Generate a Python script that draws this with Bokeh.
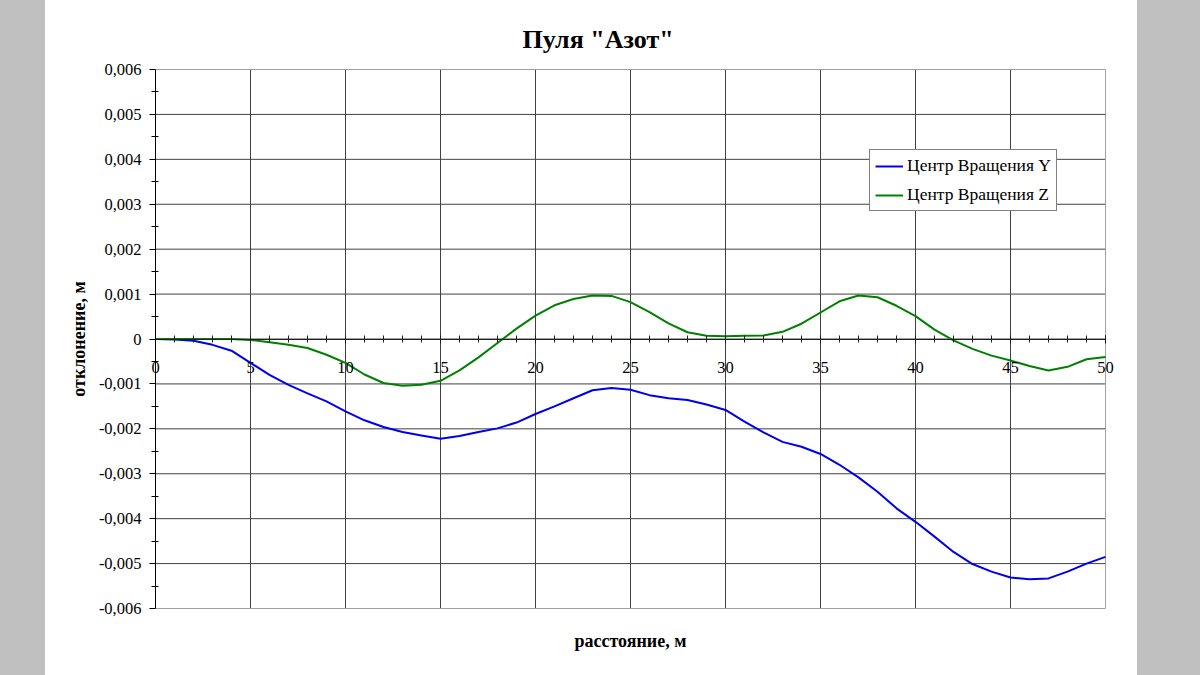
from bokeh.plotting import figure
from bokeh.models import (FixedTicker, CustomJSTickFormatter, Legend,
                          LegendItem, Range1d, LinearAxis, Title)
from bokeh.embed import file_html
from bokeh.resources import INLINE

# ---------------- data ----------------
distance = list(range(0, 51))

center_y = [0.0, -0.00001, -0.00004, -0.00013, -0.00026, -0.00053, -0.0008, -0.00102,
            -0.00121, -0.00139, -0.00161, -0.00181, -0.00196, -0.00207, -0.00215,
            -0.00222, -0.00216, -0.00207, -0.00199, -0.00186, -0.00167, -0.0015,
            -0.00132, -0.00114, -0.00109, -0.00113, -0.00125, -0.00132, -0.00136,
            -0.00146, -0.00158, -0.00184, -0.00208, -0.00229, -0.0024, -0.00256,
            -0.0028, -0.00308, -0.0034, -0.00377, -0.00407, -0.0044, -0.00474,
            -0.00501, -0.00518, -0.00531, -0.00535, -0.00533, -0.00518, -0.005,
            -0.00485]

center_z = [0.0, 0.0, 0.0, 0.0, 0.0, -0.00002, -0.00007, -0.00013, -0.0002, -0.00035,
            -0.00053, -0.00079, -0.00098, -0.00104, -0.00102, -0.00093, -0.0007,
            -0.00041, -0.00009, 0.00023, 0.00052, 0.00075, 0.00089, 0.00097, 0.00096,
            0.00082, 0.0006, 0.00035, 0.00015, 0.00007, 0.00006, 0.00007, 0.00008,
            0.00016, 0.00034, 0.00059, 0.00084, 0.00097, 0.00093, 0.00074, 0.00051,
            0.00021, -0.00003, -0.00022, -0.00037, -0.00048, -0.0006, -0.0007,
            -0.00062, -0.00045, -0.0004]

x_ticks = [0, 5, 10, 15, 20, 25, 30, 35, 40, 45, 50]
x_minor_ticks = list(range(0, 51))
y_ticks = [-0.006, -0.005, -0.004, -0.003, -0.002, -0.001, 0.0,
           0.001, 0.002, 0.003, 0.004, 0.005, 0.006]
y_minor_ticks = [-0.0055, -0.0045, -0.0035, -0.0025, -0.0015, -0.0005,
                 0.0005, 0.0015, 0.0025, 0.0035, 0.0045, 0.0055]

series_names = ["Центр Вращения Y", "Центр Вращения Z"]
title_text = 'Пуля "Азот"'
x_label = "расстояние, м"
y_label = "отклонение, м"

FONT = "Liberation Serif"

# ---------------- layout (pixels) ----------------
W, H = 1184, 669
AX_LEFT, AX_RIGHT, AX_TOP, AX_BOTTOM = 155, 1105, 69, 608   # data box in page px
FR_LEFT, FR_RIGHT, FR_TOP, FR_BOTTOM = 88, 1118, 59, 618    # drawing frame in page px

x0, x1 = x_ticks[0], x_ticks[-1]
y0, y1 = y_ticks[0], y_ticks[-1]
sx = (AX_RIGHT - AX_LEFT) / (x1 - x0)
sy = (AX_BOTTOM - AX_TOP) / (y1 - y0)
x_range = Range1d(x0 - (AX_LEFT - FR_LEFT) / sx, x1 + (FR_RIGHT - AX_RIGHT) / sx)
y_range = Range1d(y0 - (FR_BOTTOM - AX_BOTTOM) / sy, y1 + (AX_TOP - FR_TOP) / sy)

p = figure(width=W, height=H, output_backend="svg", toolbar_location=None,
           x_range=x_range, y_range=y_range,
           x_axis_location=None, y_axis_location=None,
           min_border_left=FR_LEFT, min_border_right=W - FR_RIGHT,
           min_border_top=FR_TOP, min_border_bottom=H - FR_BOTTOM)
p.border_fill_alpha = 0
p.background_fill_alpha = 0
p.outline_line_color = None
for g in p.grid:
    g.visible = False

# title
p.title.text = title_text
p.title.align = "left"
p.title.offset = 434
p.title.vertical_align = "top"
p.title.standoff = 8
p.title.text_font = FONT
p.title.text_font_size = "26px"
p.title.text_font_style = "bold"
p.title.text_color = "black"

# grid lines (inner ticks only) and the box outline
GRID = "#404040"
vx = x_ticks[1:-1]
p.segment(x0=vx, y0=[y0] * len(vx), x1=vx, y1=[y1] * len(vx),
          line_color=GRID, line_width=1)
hy = y_ticks[1:-1]
p.segment(x0=[x0] * len(hy), y0=hy, x1=[x1] * len(hy), y1=hy,
          line_color=GRID, line_width=1)
p.segment(x0=[x0, x0, x1], y0=[y1, y0, y0], x1=[x1, x1, x1], y1=[y1, y0, y1],
          line_color="#a0a0a0", line_width=1)

# x-axis title below the frame
xtitle = Title(text=x_label, align="left", offset=486, vertical_align="top",
               standoff=25, text_font=FONT, text_font_size="18px",
               text_font_style="bold", text_color="black")
p.add_layout(xtitle, "below")

# y-axis label carrier (left of the frame, no ticks)
ylab = LinearAxis(ticker=FixedTicker(ticks=[]), axis_line_color=None,
                  major_tick_line_color=None, minor_tick_line_color=None)
ylab.axis_label = y_label
ylab.axis_label_standoff = 0
ylab.axis_label_text_font = FONT
ylab.axis_label_text_font_size = "18px"
ylab.axis_label_text_font_style = "bold"
ylab.axis_label_text_color = "black"
p.add_layout(ylab, "left")

# x axis drawn at y = 0
xa = LinearAxis(ticker=FixedTicker(ticks=x_ticks, minor_ticks=x_minor_ticks))
xa.fixed_location = 0
xa.bounds = (x0, x1)
xa.axis_line_color = "#202020"
xa.major_tick_in = 4
xa.major_tick_out = 4
xa.minor_tick_in = 4
xa.minor_tick_out = 3
xa.major_tick_line_color = "#202020"
xa.minor_tick_line_color = "#202020"
xa.major_label_standoff = 19
xa.major_label_text_font = FONT
xa.major_label_text_font_size = "16.5px"
xa.major_label_text_color = "black"
p.add_layout(xa, "below")

# y axis drawn at x = 0
ya = LinearAxis(ticker=FixedTicker(ticks=y_ticks, minor_ticks=y_minor_ticks))
ya.fixed_location = 0
ya.bounds = (y0, y1)
ya.formatter = CustomJSTickFormatter(
    code="if (Math.abs(tick) < 1e-12) { return '0'; } return tick.toFixed(3).replace('.', ',');")
ya.axis_line_color = "black"
ya.major_tick_in = 0
ya.major_tick_out = 6
ya.minor_tick_in = 3
ya.minor_tick_out = 4
ya.major_tick_line_color = "black"
ya.minor_tick_line_color = "black"
ya.major_label_standoff = 8
ya.major_label_text_font = FONT
ya.major_label_text_font_size = "16.5px"
ya.major_label_text_color = "black"
p.add_layout(ya, "left")

# lines
r1 = p.line(distance, center_y, line_color="#0000ee", line_width=2)
r2 = p.line(distance, center_z, line_color="#008000", line_width=2)

legend = Legend(items=[LegendItem(label=series_names[0], renderers=[r1]),
                       LegendItem(label=series_names[1], renderers=[r2])],
                location=(869 - FR_LEFT, FR_BOTTOM - 211))
legend.border_line_color = "black"
legend.border_line_width = 1
legend.background_fill_color = "white"
legend.background_fill_alpha = 1
legend.label_text_font = FONT
legend.label_text_font_size = "17.5px"
legend.label_text_color = "black"
legend.glyph_width = 28
legend.glyph_height = 18
legend.label_height = 18
legend.spacing = 8
legend.padding = 5
legend.margin = 0
legend.label_standoff = 4
p.add_layout(legend)

html = file_html(p, INLINE)
style = ("<style>html,body{background:linear-gradient(to right,#c0c0c0 0px,#c0c0c0 45px,"
         "#ffffff 45px,#ffffff 1137px,#c0c0c0 1137px,#c0c0c0 100%);}</style>")
html = html.replace("</head>", style + "</head>", 1)
open("out.html", "w").write(html)
